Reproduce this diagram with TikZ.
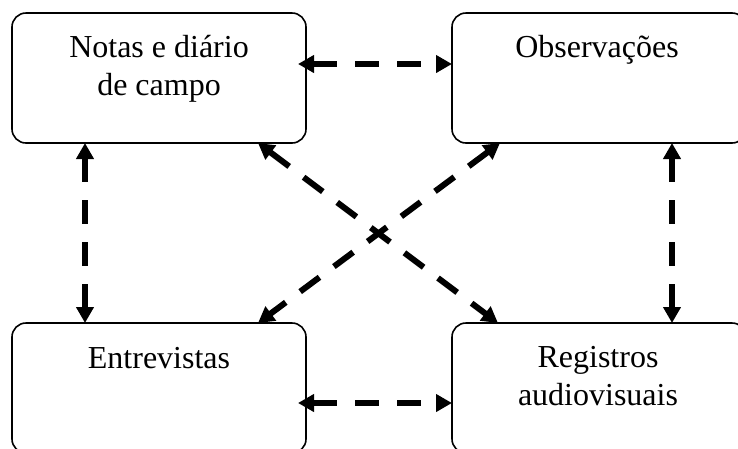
\documentclass[tikz,border=0pt]{standalone}
\usepackage{fontspec}
\setmainfont{Liberation Serif}
\usetikzlibrary{arrows.meta}
\begin{document}
\begin{tikzpicture}[x=1pt,y=-1pt,
  box/.style={draw=black, line width=1.6pt, rounded corners=14pt, minimum width=294pt, minimum height=130pt, inner sep=0pt},
  lbl/.style={font=\fontsize{32}{38}\selectfont, anchor=base, inner sep=0pt},
  conn/.style={line width=6pt, dash pattern=on 24pt off 18pt,
    {Triangle[length=16pt,width=17pt]}-{Triangle[length=16pt,width=17pt]}}]
\useasboundingbox (0,0) rectangle (738,448);
\fill[white] (0,0) rectangle (738,448);
\clip (0,0) rectangle (738,448);
% boxes
\node[box] (tl) at (159,78) {};
\node[box] (tr) at (599,78) {};
\node[box] (bl) at (159,388) {};
\node[box] (br) at (599,388) {};
% texts
\node[lbl] (tl1) at (159,57) {Notas e diário};
\node[lbl] (tl2) at (159,95) {de campo};
\node[lbl] (tr1) at (597,57) {Observações};
\node[lbl] (bl1) at (159,368) {Entrevistas};
\node[lbl] (br1) at (598,367) {Registros};
\node[lbl] (br2) at (598,405) {audiovisuais};
% connector ends
\coordinate (h1a) at (298,64);
\coordinate (h1b) at (452,64);
\coordinate (h2a) at (298,403);
\coordinate (h2b) at (452,403);
\coordinate (v1a) at (85,143);
\coordinate (v1b) at (85,323);
\coordinate (v2a) at (672,143);
\coordinate (v2b) at (672,323);
\coordinate (d1a) at (258,143);
\coordinate (d1b) at (498,323);
\coordinate (d2a) at (500,143);
\coordinate (d2b) at (258,323);
% connectors
\draw[conn] (h1a) -- (h1b);
\draw[conn] (h2a) -- (h2b);
\draw[conn] (v1a) -- (v1b);
\draw[conn] (v2a) -- (v2b);
\draw[conn] (d1a) -- (d1b);
\draw[conn] (d2a) -- (d2b);
\end{tikzpicture}
\end{document}
